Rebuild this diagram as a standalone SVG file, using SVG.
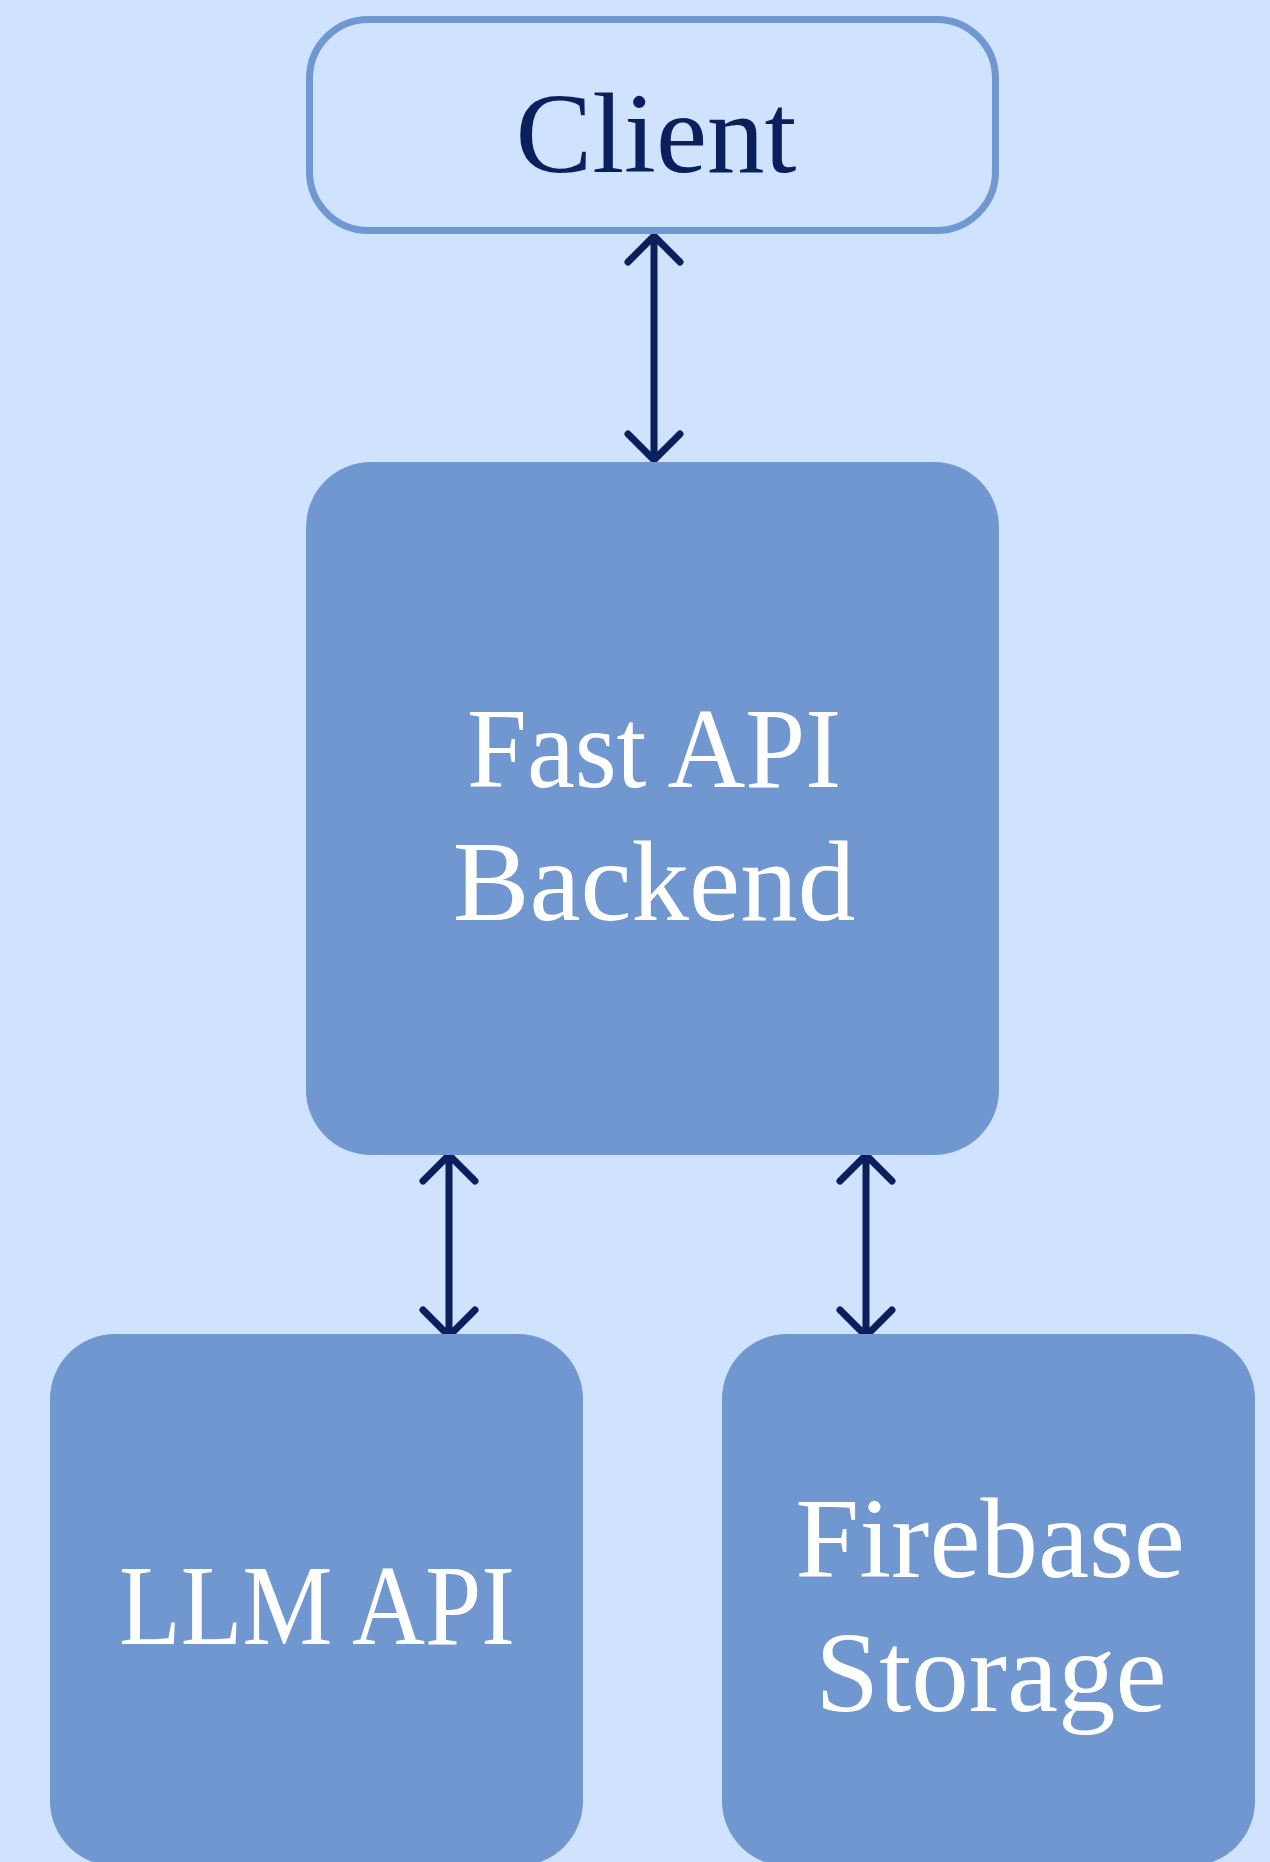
<svg xmlns="http://www.w3.org/2000/svg" width="1270" height="1862" viewBox="0 0 1270 1862">
<style>
.box{fill:#7197d1}
.client{fill:#d0e3fe;stroke:#7197d1;stroke-width:7}
.lbl{font-family:"Liberation Serif","DejaVu Serif",serif;font-size:115px;text-anchor:middle}
.w{fill:#ffffff}
.n{fill:#0a1f5c}
.arr{fill:none;stroke:#0a1f5c;stroke-width:7;stroke-linecap:round;stroke-linejoin:round}
</style>
<rect width="1270" height="1862" fill="#d0e3fe"/>
<g id="connectors">
<path class="arr" d="M654 236 V460 M628 262 L654 236 L680 262 M628 434 L654 460 L680 434"/>
<path class="arr" d="M449 1155 V1336 M423 1181 L449 1155 L475 1181 M423 1310 L449 1336 L475 1310"/>
<path class="arr" d="M866 1155 V1336 M840 1181 L866 1155 L892 1181 M840 1310 L866 1336 L892 1310"/>
</g>
<g id="client">
<rect class="client" x="309.5" y="19.5" width="686" height="211" rx="59"/>
<text class="lbl n" x="656" y="172" font-size="119">Client</text>
</g>
<g id="backend">
<rect class="box" x="306" y="462" width="693" height="693" rx="65"/>
<text class="lbl w" x="654" y="787" textLength="374" lengthAdjust="spacingAndGlyphs">Fast API</text>
<text class="lbl w" x="654" y="920">Backend</text>
</g>
<g id="llm">
<rect class="box" x="50" y="1334" width="533" height="532" rx="65"/>
<text class="lbl w" x="317" y="1644" textLength="396" lengthAdjust="spacingAndGlyphs">LLM API</text>
</g>
<g id="firebase">
<rect class="box" x="722" y="1334" width="533" height="532" rx="65"/>
<text class="lbl w" x="990" y="1577">Firebase</text>
<text class="lbl w" x="991" y="1711">Storage</text>
</g>
</svg>
